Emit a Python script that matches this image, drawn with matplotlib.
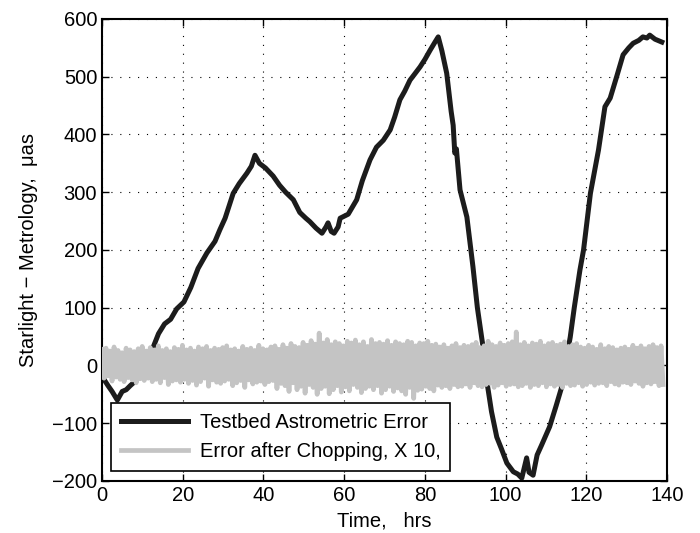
import numpy as np
import matplotlib.pyplot as plt

# Testbed astrometric error (black)
black_t = [0.3, 1.5, 2.5, 3.8, 5, 6, 7, 8.6, 10.5, 12.7, 14, 15.5, 17, 18.5,
           20.3, 22, 23.8, 26, 28, 29.2, 30.5, 32.5, 34, 35.9, 37, 37.9, 39,
           40.5, 42.4, 44, 45.5, 47.4, 49, 50.5, 51.5, 53, 54.5, 55.5, 56,
           56.8, 57.5, 58.5, 59, 61, 63.1, 64.5, 66.4, 68, 69.7, 71.4, 72.5,
           73.8, 75, 76.3, 77.5, 78.8, 80, 81.3, 82.5, 83.3, 84.2, 85.4, 86.5,
           87, 87.4, 87.8, 88.7, 90.4, 91.9, 93, 94.4, 95.4, 96.5, 97.8, 99,
           100.3, 101.9, 103, 104, 105.2, 105.8, 106.8, 107.8, 108.9, 110.9,
           112.5, 114.2, 115, 116, 117, 118.4, 119.3, 121, 123, 124.6, 125.9,
           127.5, 129.1, 130.5, 131.6, 133, 134, 135, 135.7, 137, 138.7]
black_v = [-22, -35, -45, -60, -45, -42, -35, -25, 5, 32, 55, 72, 80, 98,
           110, 135, 168, 195, 215, 235, 255, 298, 315, 333, 345, 364, 350,
           342, 328, 312, 300, 287, 265, 255, 249, 238, 229, 240, 247,
           232, 229, 240, 255, 262, 287, 320, 356, 378, 390, 408, 430,
           460, 475, 494, 505, 517, 530, 546, 560, 569, 545, 506, 440,
           416, 368, 375, 304, 257, 171, 100, 32, -30, -80, -124, -145,
           -169, -184, -188, -195, -160, -185, -190, -155, -138, -106,
           -70, -30, 10, 49, 100, 165, 200, 298, 373, 448, 463,
           500, 538, 550, 558, 563, 569, 567, 572, 565, 560]

# Error after chopping x10 (gray)
gray_v = [
    28, -22, 30, -18, 25, -27, 32, -20, 26, -24, 22, -28, 30, -21, 27, -25, 24, -30, 29, -23,
    33, -26, 25, -22, 31, -28, 27, -24, 34, -30, 26, -21, 29, -33, 24, -27, 31, -25, 28, -29,
    35, -24, 27, -31, 30, -26, 25, -34, 32, -28, 29, -22, 33, -36, 26, -25, 30, -29, 28, -31,
    31, -27, 34, -24, 27, -35, 29, -30, 25, -26, 33, -38, 28, -25, 30, -32, 26, -29, 35, -27,
    29, -33, 27, -28, 32, -26, 34, -40, 28, -31, 36, -35, 30, -45, 38, -30, 33, -42, 31, -36,
    40, -48, 35, -33, 43, -38, 37, -50, 56, -40, 39, -36, 45, -49, 36, -42, 41, -35, 38, -46,
    34, -37, 42, -44, 39, -33, 44, -38, 36, -47, 41, -40, 33, -36, 45, -42, 38, -35, 40, -48,
    37, -42, 43, -36, 35, -45, 41, -39, 38, -44, 36, -50, 42, -38, 40, -57, 34, -43, 39, -41,
    38, -36, 42, -40, 35, -44, 37, -34, 32, -38, 36, -35, 30, -40, 34, -33, 38, -37, 31, -36,
    35, -32, 33, -38, 36, -30, 40, -35, 31, -37, 34, -33, 42, -31, 36, -38, 33, -34, 39, -30,
    35, -36, 38, -33, 41, -32, 58, -37, 36, -35, 40, -31, 34, -38, 39, -33, 37, -35, 42, -30,
    34, -37, 38, -32, 40, -36, 35, -33, 37, -38, 41, -31, 33, -35, 36, -34, 38, -30, 32, -36,
    30, -33, 35, -29, 32, -34, 28, -31, 36, -30, 29, -35, 33, -28, 31, -32, 27, -34, 30, -29,
    32, -30, 28, -33, 35, -27, 30, -31, 34, -36, 29, -30, 33, -32, 36, -28, 31, -35, 34, -33,
]
gray_t = np.linspace(0, 139, len(gray_v))

x_ticks = [0, 20, 40, 60, 80, 100, 120, 140]
y_ticks = [-200, -100, 0, 100, 200, 300, 400, 500, 600]

plt.rcParams['font.family'] = ['Liberation Sans', 'DejaVu Sans']
fs = 14.5

fig = plt.figure(figsize=(7, 5.33), dpi=100)
ax = fig.add_axes([0.1457, 0.0976, 0.8073, 0.8668])

ax.plot(black_t, black_v, color='#1c1c1c', lw=3.6, zorder=2,
        solid_joinstyle='round', label='Testbed Astrometric Error')
ax.plot(gray_t, gray_v, color='#c4c4c4', lw=3.4, zorder=3,
        label='Error after Chopping, X 10,')

ax.set_xlim(0, 140)
ax.set_ylim(-200, 600)
ax.set_xticks(x_ticks)
ax.set_yticks(y_ticks)
ax.grid(True, color='black', linestyle=(0, (1, 7)), linewidth=0.8)
ax.tick_params(direction='in', length=5, width=1, labelsize=fs,
               top=True, right=True)
for s in ax.spines.values():
    s.set_linewidth(1.5)

ax.set_xlabel('Time,   hrs', fontsize=fs, labelpad=5)
ax.set_ylabel('Starlight \u2212 Metrology,  \u03bcas', fontsize=fs, labelpad=10)

leg = ax.legend(loc='lower left', bbox_to_anchor=(0.016, 0.022),
                fontsize=fs, handlelength=3.3, handletextpad=0.6,
                fancybox=False, framealpha=1, edgecolor='black',
                borderpad=0.5, labelspacing=0.5, borderaxespad=0)
leg.get_frame().set_linewidth(1.2)

fig.savefig('out.png', dpi=100)
